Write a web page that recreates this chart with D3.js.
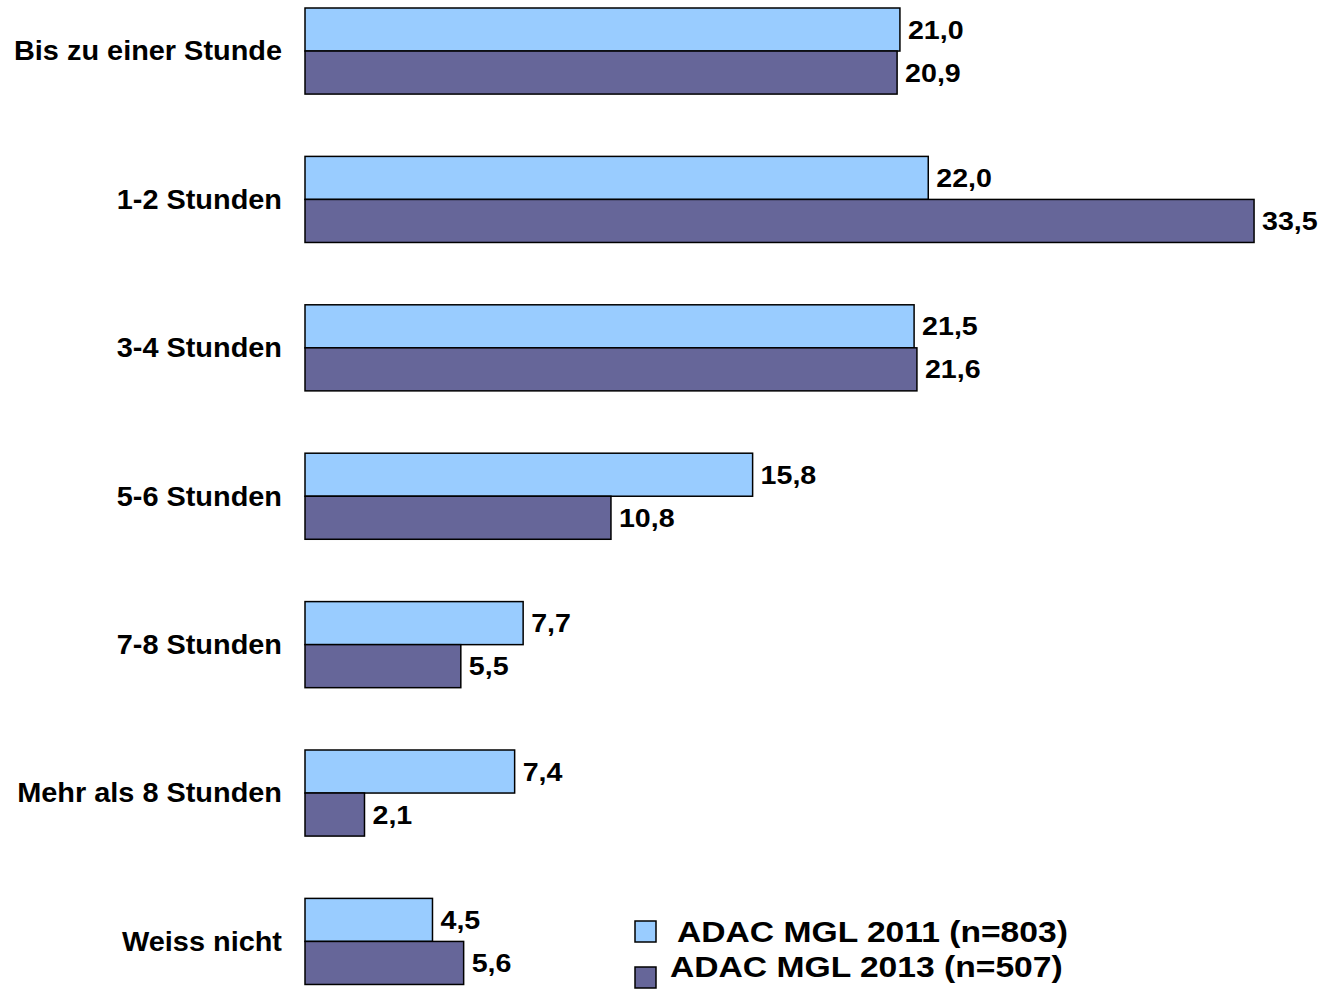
<!DOCTYPE html>
<html><head><meta charset="utf-8">
<script src="https://cdn.jsdelivr.net/npm/d3@7"></script>
<style>
html,body{margin:0;padding:0;background:#fff;}
text{font-family:"Liberation Sans",Arial,sans-serif;font-weight:bold;fill:#000;}
</style></head>
<body><svg id="c" width="1322" height="993"></svg>
<script>
const categories = ["Bis zu einer Stunde","1-2 Stunden","3-4 Stunden","5-6 Stunden","7-8 Stunden","Mehr als 8 Stunden","Weiss nicht"];
const series = ["ADAC MGL 2011 (n=803)","ADAC MGL 2013 (n=507)"];
const values2011 = [21.0,22.0,21.5,15.8,7.7,7.4,4.5];
const values2013 = [20.9,33.5,21.6,10.8,5.5,2.1,5.6];
const colors = ["#99CCFF","#666699"];

const svg = d3.select("#c");
const x = d3.scaleLinear().domain([0,35]).range([305, 305+35*28.33]);
const step = 148.4;
const y = d3.scaleBand().domain(categories).range([8-0.21*step, 8-0.21*step+7*step]).paddingInner(0.42).paddingOuter(0.21);
const y1 = d3.scaleBand().domain(series).range([0,y.bandwidth()]);
const fmt = v => d3.format(".1f")(v).replace(".", ",");
const SX = 1.1;

const data = categories.map((c,i)=>({c, vals:[values2011[i], values2013[i]]}));
const g = svg.selectAll("g.grp").data(data).join("g").attr("class","grp")
  .attr("transform", d=>`translate(0,${y(d.c)})`);
g.selectAll("rect").data(d=>d.vals.map((v,j)=>({v,s:series[j],j}))).join("rect")
  .attr("x", x(0)).attr("y", d=>y1(d.s)).attr("width", d=>x(d.v)-x(0)).attr("height", y1.bandwidth())
  .attr("fill", d=>colors[d.j]).attr("stroke","#000").attr("stroke-width",1.5);
g.selectAll("text.val").data(d=>d.vals.map((v,j)=>({v,s:series[j],j}))).join("text").attr("class","val")
  .attr("transform", d=>`translate(${x(d.v)+8},${y1(d.s)+y1.bandwidth()/2}) scale(${SX},1)`)
  .attr("dy","0.35em").style("font-size","26px").text(d=>fmt(d.v));
g.append("text")
  .attr("transform", `translate(282,${y.bandwidth()/2}) scale(1.07,1)`)
  .attr("text-anchor","end").attr("dy","0.35em").style("font-size","27px").text(d=>d.c);

// legend
const lg = svg.append("g");
const legRows = [{s:series[0],c:colors[0],sy:921,tx:677,ty:942},{s:series[1],c:colors[1],sy:967,tx:670,ty:977}];
lg.selectAll("rect").data(legRows).join("rect").attr("x",635).attr("y",d=>d.sy).attr("width",21).attr("height",21)
  .attr("fill",d=>d.c).attr("stroke","#000").attr("stroke-width",1.5);
lg.selectAll("text").data(legRows).join("text")
  .attr("transform", d=>`translate(${d.tx},${d.ty}) scale(1.16,1)`).style("font-size","29px").text(d=>d.s);
</script></body></html>
